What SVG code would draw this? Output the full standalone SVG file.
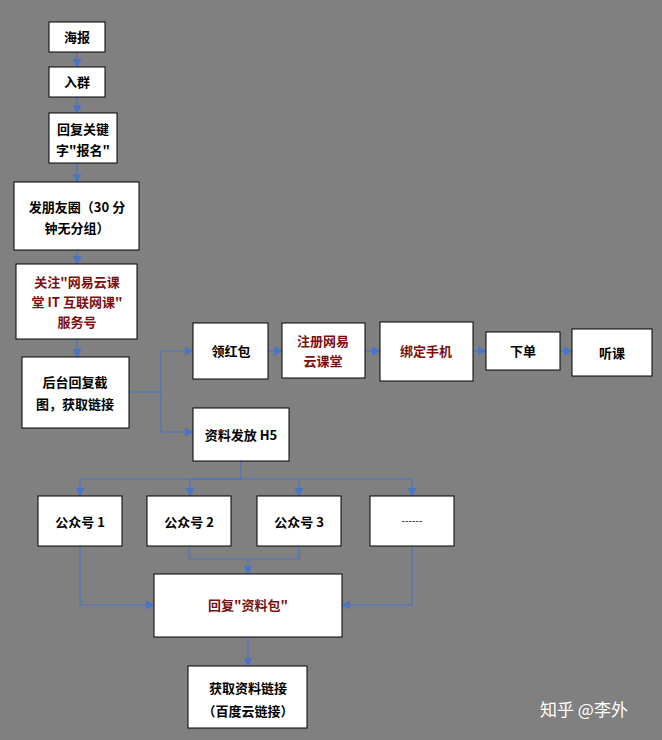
<svg xmlns="http://www.w3.org/2000/svg" width="662" height="740" viewBox="0 0 662 740">
<style>
.b{fill:#fff;stroke:#000;stroke-width:1}
.t{font-family:"Noto Sans CJK SC","Liberation Serif",serif;font-size:13px;font-weight:bold;fill:#000;text-anchor:middle}
.r{fill:#7a0f0f}
.c{fill:none;stroke:#4a74c4;stroke-width:1.2}
</style>
<defs><marker id="a" viewBox="0 0 10 10" refX="9" refY="5" markerWidth="9" markerHeight="9" orient="auto" markerUnits="userSpaceOnUse"><path d="M0,0L10,5L0,10z" fill="#4a74c4"/></marker></defs>
<rect width="662" height="740" fill="#808080"/>
<g id="connectors" class="c" marker-end="url(#a)">
<path d="M77,52V67"/><path d="M77,97V113"/><path d="M77,163V182"/><path d="M77,250V264"/><path d="M77,339V357"/>
<path d="M129,392H161V351H193"/><path d="M161,392V432H193"/>
<path d="M268,351H282"/><path d="M365,351H380"/><path d="M473,351H486"/><path d="M560,351H572"/>
<path d="M241,461V479H80V496"/><path d="M241,479H190V496"/><path d="M241,479H299V496"/><path d="M299,479H412V496"/>
<path d="M80,546V605H154"/><path d="M412,546V605H342"/>
<path d="M189,546V559H299V546" marker-end="none"/><path d="M248,559V574"/>
<path d="M248,637V666"/>
</g>
<g id="n1"><rect class="b" x="49" y="22" width="56" height="30"/><text class="t" x="77" y="42">海报</text></g>
<g id="n2"><rect class="b" x="49" y="67" width="56" height="30"/><text class="t" x="77" y="87">入群</text></g>
<g id="n3"><rect class="b" x="49" y="113" width="68" height="50"/><text class="t" x="83" y="134">回复关键</text><text class="t" x="83" y="155">字"报名"</text></g>
<g id="n4"><rect class="b" x="14" y="182" width="125" height="68"/><text class="t" x="77" y="212">发朋友圈（30 分</text><text class="t" x="77" y="233">钟无分组）</text></g>
<g id="n5"><rect class="b" x="16" y="264" width="121" height="75"/><text class="t r" x="77" y="287">关注"网易云课</text><text class="t r" x="77" y="307">堂 IT 互联网课"</text><text class="t r" x="77" y="327">服务号</text></g>
<g id="n6"><rect class="b" x="22" y="357" width="107" height="71"/><text class="t" x="75" y="387">后台回复截</text><text class="t" x="75" y="409">图，获取链接</text></g>
<g id="n7"><rect class="b" x="193" y="323" width="75" height="56"/><text class="t" x="231" y="356">领红包</text></g>
<g id="n8"><rect class="b" x="282" y="323" width="83" height="55"/><text class="t r" x="323" y="346">注册网易</text><text class="t r" x="323" y="366">云课堂</text></g>
<g id="n9"><rect class="b" x="380" y="322" width="93" height="59"/><text class="t r" x="426" y="356">绑定手机</text></g>
<g id="n10"><rect class="b" x="486" y="332" width="74" height="38"/><text class="t" x="523" y="356">下单</text></g>
<g id="n11"><rect class="b" x="572" y="329" width="80" height="47"/><text class="t" x="612" y="358">听课</text></g>
<g id="n12"><rect class="b" x="193" y="408" width="96" height="53"/><text class="t" x="241" y="440">资料发放 H5</text></g>
<g id="n13"><rect class="b" x="38" y="496" width="84" height="50"/><text class="t" x="80" y="527">公众号 1</text></g>
<g id="n14"><rect class="b" x="147" y="496" width="84" height="50"/><text class="t" x="189" y="527">公众号 2</text></g>
<g id="n15"><rect class="b" x="257" y="496" width="84" height="50"/><text class="t" x="299" y="527">公众号 3</text></g>
<g id="n16"><rect class="b" x="370" y="496" width="84" height="50"/><text class="t" x="412" y="524" style="font-weight:normal;font-size:10px">------</text></g>
<g id="n17"><rect class="b" x="154" y="574" width="188" height="63"/><text class="t r" x="248" y="610">回复"资料包"</text></g>
<g id="n18"><rect class="b" x="188" y="666" width="119" height="62"/><text class="t" x="248" y="693">获取资料链接</text><text class="t" x="248" y="716">（百度云链接）</text></g>
<text x="540" y="716" style="font-family:'Noto Sans CJK SC',sans-serif;font-size:17px;fill:#fff">知乎 @李外</text>
</svg>
